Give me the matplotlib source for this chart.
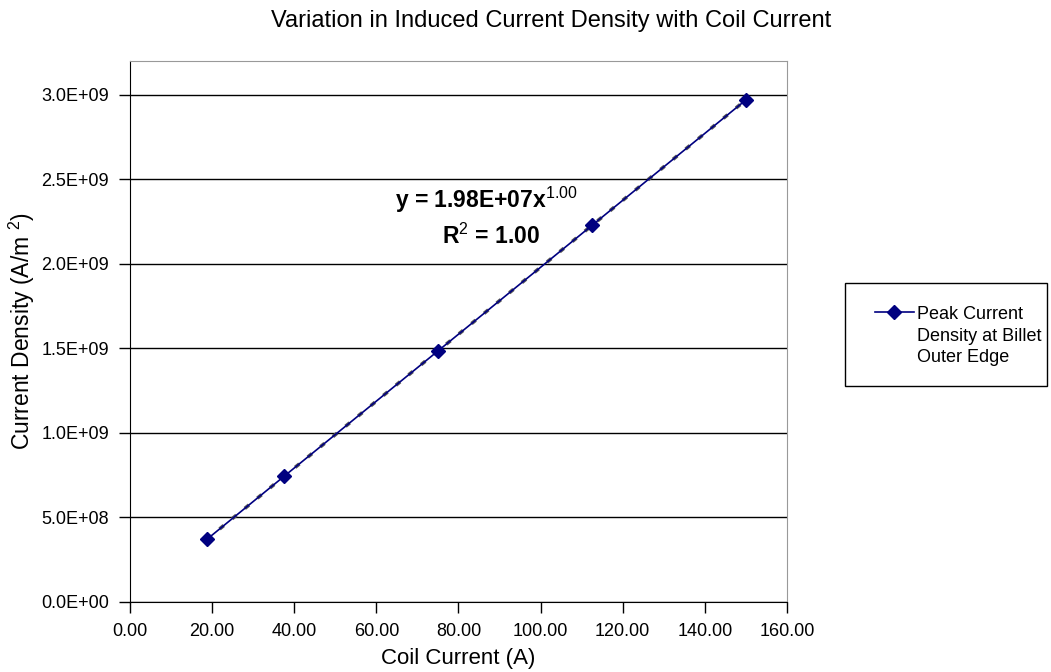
import numpy as np
import matplotlib
matplotlib.use("Agg")
import matplotlib.pyplot as plt
from matplotlib.ticker import FuncFormatter
from matplotlib.patches import Rectangle

plt.rcParams["font.family"] = ["Liberation Sans", "DejaVu Sans"]
plt.rcParams["mathtext.fontset"] = "custom"
plt.rcParams["mathtext.rm"] = "Liberation Sans"
plt.rcParams["mathtext.bf"] = "Liberation Sans:bold"

# data
coil_current = [18.75, 37.5, 75.0, 112.5, 150.0]
current_density = [3.71e8, 7.43e8, 1.485e9, 2.2275e9, 2.97e9]
trend_coef = 1.98e7
trend_exp = 1.00

fig = plt.figure(figsize=(10.51, 6.72), dpi=100)
ax = fig.add_axes([0.1237, 0.1042, 0.6251, 0.805])

# power trendline (dashed, underneath the series)
xt = np.linspace(min(coil_current), max(coil_current), 100)
ax.plot(xt, trend_coef * xt ** trend_exp, color="#555555", lw=2.6,
        ls=(0, (1.5, 3)), zorder=2)
ax.plot(coil_current, current_density, color="#000080", lw=1.2,
        marker="D", ms=7, zorder=3, label="Peak Current\nDensity at Billet\nOuter Edge")

ax.set_xlim(0, 160)
ax.set_ylim(0, 3.2e9)
ax.set_xticks(np.arange(0, 161, 20))
ax.set_yticks(np.arange(0, 3.01e9, 5e8))
ax.xaxis.set_major_formatter(FuncFormatter(lambda v, p: f"{v:.2f}"))
ax.yaxis.set_major_formatter(FuncFormatter(
    lambda v, p: "0.0E+00" if v == 0 else f"{v:.1E}"))
ax.tick_params(labelsize=13, length=8, color="black", width=1, pad=7)
ax.yaxis.grid(True, color="black", lw=1)
ax.set_axisbelow(True)
for s in ["top", "right"]:
    ax.spines[s].set_color("#999999")
for s in ["left", "bottom"]:
    ax.spines[s].set_color("black")

ax.set_xlabel("Coil Current (A)", fontsize=16, labelpad=6)
ax.set_ylabel("Current Density (A/m $^{2}$)", fontsize=16.5, labelpad=3)
fig.text(0.524, 0.969, "Variation in Induced Current Density with Coil Current",
         fontsize=17, ha="center", va="center")

# trendline equation
ax.text(64.5, 2.329e9, "y = 1.98E+07x$^{\\mathrm{1.00}}$", fontsize=16.5,
        fontweight="bold", ha="left", va="baseline")
ax.text(76.0, 2.12e9, "R$^{\\mathrm{2}}$ = 1.00", fontsize=16.5,
        fontweight="bold", ha="left", va="baseline")

# legend box drawn by hand
fig.patches.append(Rectangle((845 / 1051, 1 - 386 / 672), 202 / 1051, 103 / 672,
                             transform=fig.transFigure, fill=False,
                             edgecolor="black", lw=1))
leg = fig.legend(loc="upper left", bbox_to_anchor=(866 / 1051, 1 - 297 / 672),
                 fontsize=13, frameon=False, handlelength=2.15,
                 handletextpad=0.15, borderpad=0)
for t in leg.get_texts():
    t.set_linespacing(1.35)
try:
    for col in leg._legend_handle_box.get_children():
        for item in col.get_children():
            item.align = "top"
except AttributeError:
    pass

fig.savefig("out.png", dpi=100)
